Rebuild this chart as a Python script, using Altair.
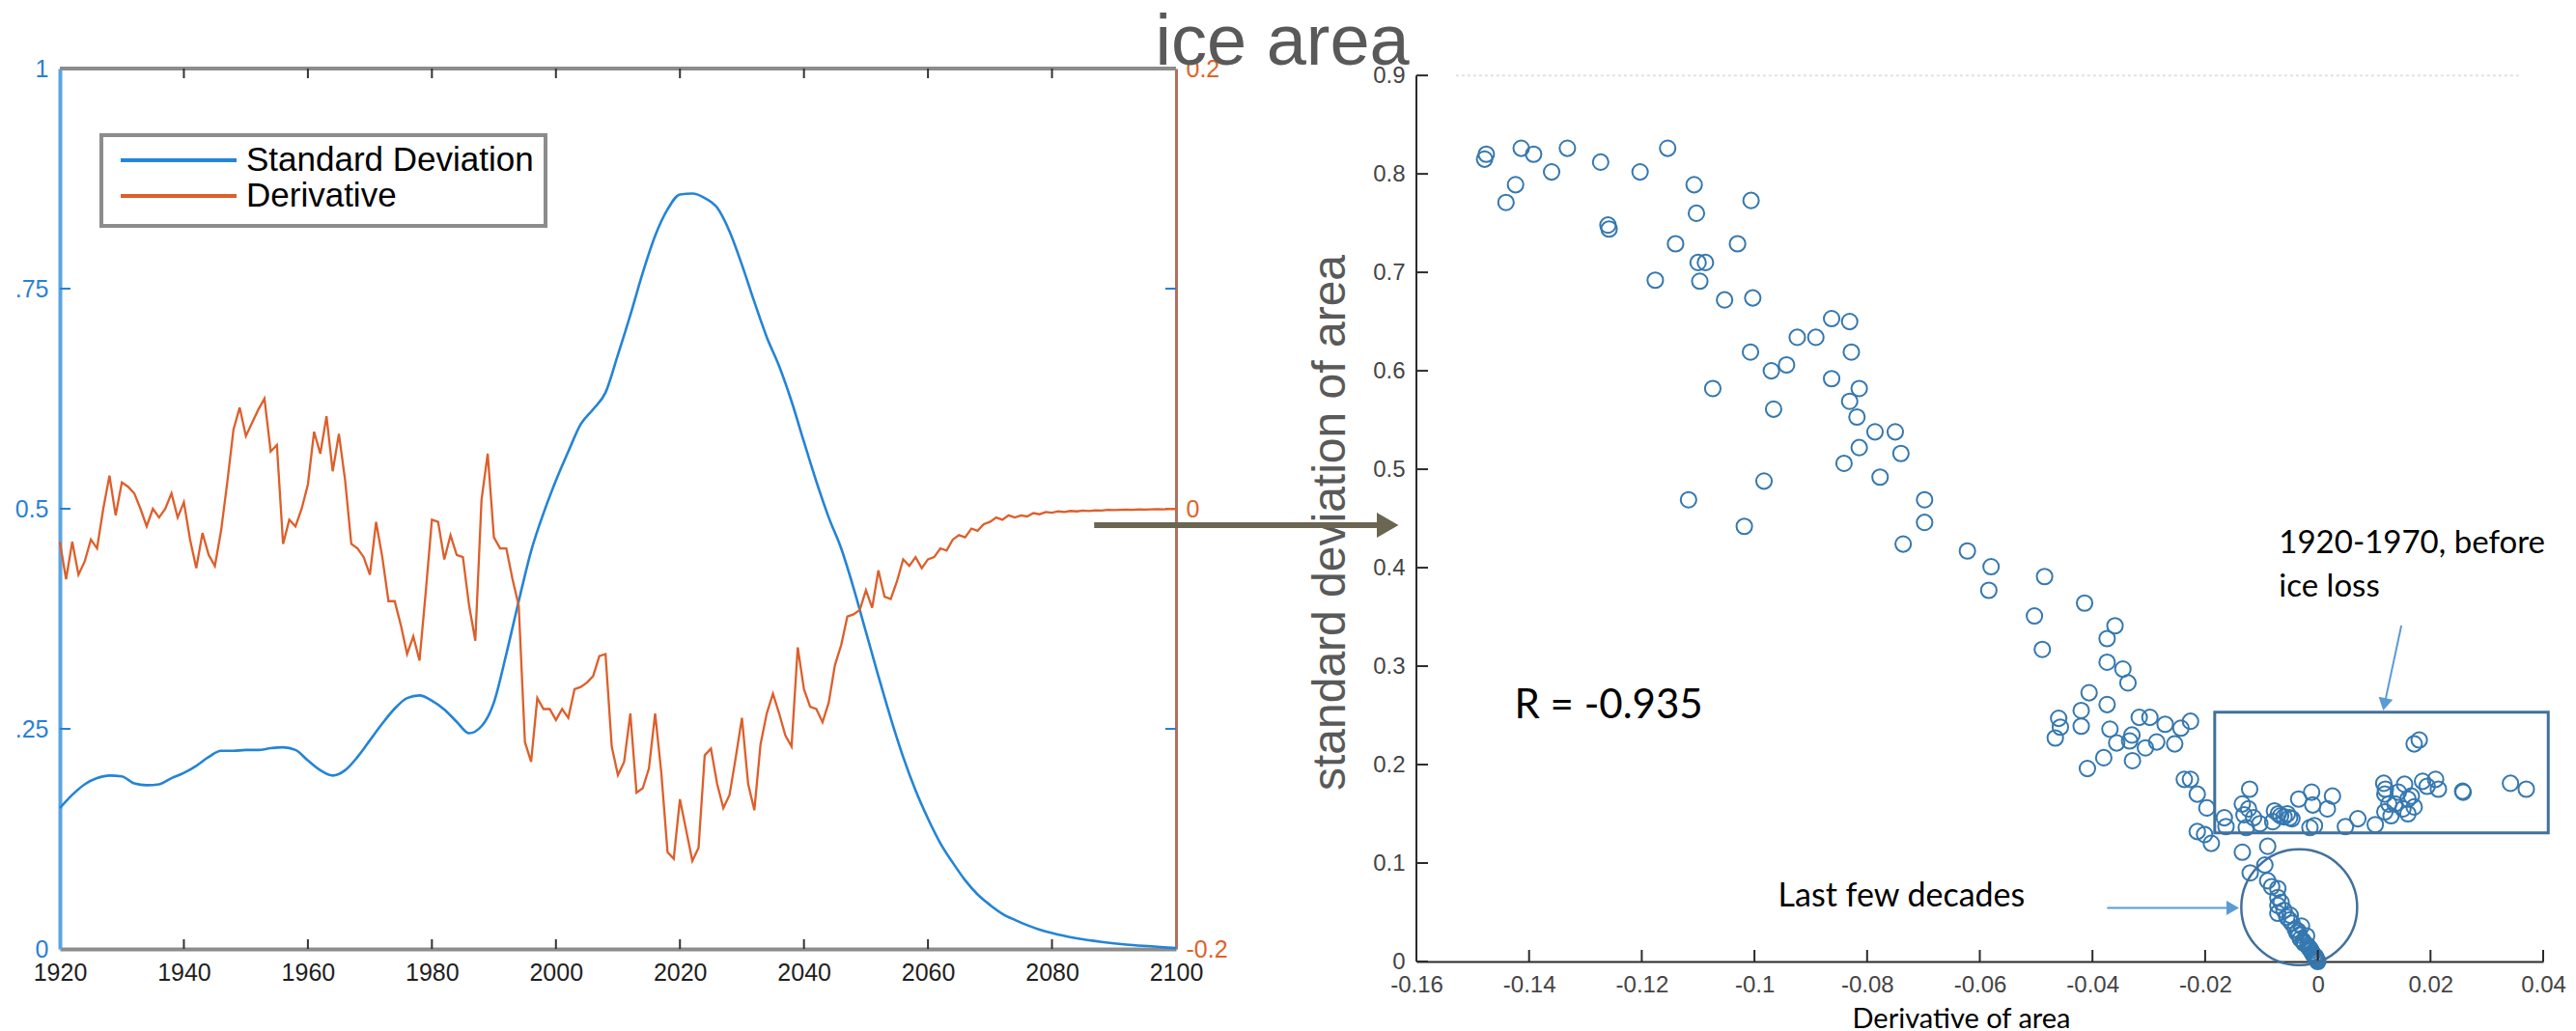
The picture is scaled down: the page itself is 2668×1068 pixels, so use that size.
import altair as alt
import pandas as pd

# ---------------- time series (left panel) ----------------
STD_YEARS = [1920, 1922, 1924, 1926, 1928, 1930, 1932, 1934, 1936, 1938,
             1940, 1942, 1944, 1946, 1948, 1950, 1952, 1954, 1956, 1958,
             1960, 1962, 1964, 1966, 1968, 1970, 1972, 1974, 1976, 1978,
             1980, 1982, 1984, 1986, 1988, 1990, 1992, 1994, 1996, 1998,
             2000, 2002, 2004, 2006, 2008, 2010, 2012, 2014, 2016, 2018,
             2020, 2022, 2024, 2026, 2028, 2030, 2032, 2034, 2036, 2038,
             2040, 2042, 2044, 2046, 2048, 2050, 2052, 2054, 2056, 2058,
             2060, 2062, 2064, 2066, 2068, 2070, 2072, 2074, 2076, 2078,
             2080, 2084, 2088, 2092, 2096, 2100]
STD_VALUES = [0.160, 0.175, 0.187, 0.194, 0.197, 0.196, 0.188, 0.186, 0.187, 0.194,
              0.200, 0.208, 0.218, 0.225, 0.225, 0.226, 0.226, 0.228, 0.229, 0.226,
              0.214, 0.203, 0.197, 0.203, 0.218, 0.237, 0.256, 0.273, 0.285, 0.288,
              0.282, 0.272, 0.258, 0.245, 0.253, 0.280, 0.335, 0.395, 0.452, 0.495,
              0.532, 0.565, 0.596, 0.613, 0.632, 0.675, 0.720, 0.768, 0.810, 0.840,
              0.857, 0.858, 0.853, 0.842, 0.815, 0.777, 0.735, 0.695, 0.662, 0.622,
              0.576, 0.531, 0.490, 0.455, 0.410, 0.360, 0.310, 0.262, 0.218, 0.180,
              0.148, 0.120, 0.098, 0.078, 0.062, 0.050, 0.040, 0.033, 0.027, 0.022,
              0.018, 0.012, 0.008, 0.005, 0.003, 0.001]

DERIV_YEARS = list(range(1920, 2101))
DERIV_VALUES = [
    -0.015, -0.032, -0.015, -0.030, -0.024, -0.014, -0.018, 0.000, 0.015, -0.003,    # 1920s
    0.012, 0.010, 0.007, 0.000, -0.008, 0.000, -0.004, 0.000, 0.007, -0.004,         # 1930s
    0.003, -0.014, -0.027, -0.011, -0.021, -0.026, -0.010, 0.012, 0.036, 0.046,      # 1940s
    0.033, 0.039, 0.045, 0.050, 0.026, 0.029, -0.016, -0.005, -0.008, 0.000,         # 1950s
    0.011, 0.035, 0.025, 0.042, 0.017, 0.034, 0.013, -0.016, -0.018, -0.022,         # 1960s
    -0.030, -0.006, -0.022, -0.042, -0.042, -0.053, -0.066, -0.058, -0.069, -0.038,  # 1970s
    -0.005, -0.006, -0.023, -0.012, -0.021, -0.022, -0.044, -0.060, 0.004, 0.025,    # 1980s
    -0.013, -0.018, -0.018, -0.032, -0.044, -0.106, -0.115, -0.086, -0.091, -0.091,  # 1990s
    -0.096, -0.091, -0.095, -0.082, -0.081, -0.079, -0.076, -0.067, -0.066, -0.108,  # 2000s
    -0.121, -0.115, -0.093, -0.129, -0.127, -0.118, -0.093, -0.120, -0.156, -0.159,  # 2010s
    -0.132, -0.146, -0.160, -0.154, -0.112, -0.109, -0.125, -0.136, -0.130, -0.113,  # 2020s
    -0.095, -0.125, -0.137, -0.107, -0.093, -0.084, -0.093, -0.103, -0.108, -0.063,  # 2030s
    -0.082, -0.090, -0.091, -0.097, -0.088, -0.071, -0.062, -0.049, -0.048, -0.046,  # 2040s
    -0.037, -0.045, -0.028, -0.040, -0.041, -0.033, -0.023, -0.026, -0.022, -0.027,  # 2050s
    -0.023, -0.022, -0.018, -0.019, -0.014, -0.012, -0.013, -0.009, -0.010, -0.007,  # 2060s
    -0.006, -0.004, -0.005, -0.003, -0.004, -0.003, -0.0035, -0.002, -0.0025, -0.0015,  # 2070s
    -0.0018, -0.0012, -0.0015, -0.001, -0.0012, -0.0008, -0.001, -0.0007, -0.0008, -0.0005,  # 2080s
    -0.0006, -0.0005, -0.0004, -0.0005, -0.0003, -0.0004, -0.0003, -0.0002, -0.0003, -0.0002,  # 2090s
    -0.0001,
]

SERIES = ["Standard Deviation", "Derivative"]
SERIES_COLORS = ["#2484d6", "#dd5f2b"]

YEAR_TICKS = list(range(1920, 2101, 20))
STD_TICKS = [0, 0.25, 0.5, 0.75, 1]
STD_TICK_TEXT = ["0", ".25", "0.5", ".75", "1"]
DERIV_TICKS = [-0.2, 0, 0.2]
DERIV_TICK_TEXT = ["-0.2", "0", "0.2"]

# ---------------- scatter (right panel) ----------------
SCATTER_DERIV = [
    -0.1476, -0.1479, -0.1414, -0.1392, -0.1332, -0.1360, -0.1424, -0.1441, -0.1273, -0.1203,
    -0.1154, -0.1260, -0.1258, -0.1107, -0.1103, -0.1006, -0.1140, -0.1030, -0.1100, -0.1087,
    -0.1176, -0.1097, -0.1053, -0.1003, -0.0863, -0.0924, -0.0891, -0.1007, -0.0970, -0.0943,
    -0.0863, -0.1074, -0.0966, -0.0983, -0.1117, -0.1018,
    -0.0831, -0.0828, -0.0814, -0.0831, -0.0818, -0.0786, -0.0750, -0.0814, -0.0740, -0.0841,
    -0.0777, -0.0698, -0.0698, -0.0736, -0.0622, -0.0580, -0.0584, -0.0485, -0.0414, -0.0503,
    -0.0360, -0.0374, -0.0489, -0.0374, -0.0346,
    -0.0337, -0.0406, -0.0374, -0.0420, -0.0460, -0.0457, -0.0466, -0.0420, -0.0369, -0.0357,
    -0.0330, -0.0317, -0.0298, -0.0271, -0.0226, -0.0243, -0.0286, -0.0306, -0.0254, -0.0329,
    -0.0380, -0.0409, -0.0334, -0.0237, -0.0226, -0.0214, -0.0197, -0.0214, -0.0201, -0.0189,
    -0.0166, -0.0163,
    -0.0121, -0.0134, -0.0123, -0.0131, -0.0114, -0.0127, -0.0103, -0.0134, -0.0089, -0.0077,
    -0.0066, -0.0054, -0.0046, -0.0080, -0.0034, -0.0011, -0.0009, 0.0026, 0.0017, -0.0006,
    -0.0014, 0.0049, 0.0071, 0.0102, -0.0094, -0.0120, -0.0060, -0.0050, -0.0070,
    0.0119, 0.0126, 0.0117, 0.0120, 0.0119, 0.0137, 0.0143, 0.0154, 0.0160, 0.0151,
    0.0171, 0.0166, 0.0186, 0.0194, 0.0209, 0.0214, 0.0171, 0.0180, 0.0257, 0.0258,
    0.0342, 0.0370, 0.0130, 0.0160,
    -0.0071, -0.0071, -0.0071, -0.0071, -0.0049, -0.0046, -0.0029, -0.0037, -0.0031, -0.0023,
    -0.0014, -0.0009, -0.0003, 0.0000, -0.0020, -0.0089, -0.0040, -0.0026, -0.0018, -0.0012,
    -0.0007, -0.0005, -0.0002, -0.0001, -0.0016, -0.0010, -0.0004, -0.0025, -0.0033, -0.0050,
    -0.0060, -0.0065, -0.0082, -0.0055, -0.0035,
]
SCATTER_STD = [
    0.820, 0.815, 0.826, 0.820, 0.826, 0.802, 0.789, 0.771, 0.812, 0.802,
    0.826, 0.748, 0.744, 0.789, 0.760, 0.773, 0.729, 0.729, 0.710, 0.710,
    0.692, 0.691, 0.672, 0.674, 0.653, 0.634, 0.634, 0.619, 0.600, 0.606,
    0.592, 0.582, 0.561, 0.488, 0.469, 0.442,
    0.650, 0.619, 0.582, 0.569, 0.553, 0.538, 0.538, 0.522, 0.516, 0.506,
    0.492, 0.469, 0.446, 0.424, 0.417, 0.401, 0.377, 0.391, 0.364, 0.351,
    0.341, 0.328, 0.317, 0.304, 0.297,
    0.283, 0.273, 0.261, 0.255, 0.247, 0.238, 0.227, 0.239, 0.236, 0.222,
    0.230, 0.248, 0.248, 0.241, 0.244, 0.237, 0.223, 0.217, 0.221, 0.204,
    0.207, 0.196, 0.224, 0.185, 0.185, 0.170, 0.156, 0.132, 0.129, 0.120,
    0.146, 0.137,
    0.175, 0.160, 0.155, 0.149, 0.146, 0.136, 0.140, 0.111, 0.117, 0.153,
    0.148, 0.150, 0.145, 0.142, 0.165, 0.172, 0.159, 0.168, 0.155, 0.138,
    0.136, 0.137, 0.145, 0.139, 0.098, 0.090, 0.147, 0.146, 0.150,
    0.152, 0.160, 0.181, 0.175, 0.170, 0.160, 0.172, 0.180, 0.165, 0.155,
    0.157, 0.168, 0.183, 0.178, 0.185, 0.175, 0.221, 0.225, 0.173, 0.172,
    0.181, 0.175, 0.148, 0.150,
    0.074, 0.065, 0.057, 0.049, 0.047, 0.039, 0.036, 0.029, 0.023, 0.018,
    0.013, 0.008, 0.003, 0.000, 0.026, 0.082, 0.033, 0.021, 0.016, 0.011,
    0.006, 0.004, 0.002, 0.001, 0.014, 0.009, 0.005, 0.019, 0.027, 0.042,
    0.052, 0.060, 0.076, 0.045, 0.031,
]

X_TICKS = [-0.16, -0.14, -0.12, -0.1, -0.08, -0.06, -0.04, -0.02, 0, 0.02, 0.04]
X_TICK_TEXT = [str(v) for v in X_TICKS]
Y_TICKS = [0, 0.1, 0.2, 0.3, 0.4, 0.5, 0.6, 0.7, 0.8, 0.9]
Y_TICK_TEXT = [str(v) for v in Y_TICKS]

TITLE_TEXT = "ice area"
R_TEXT = "R = -0.935"
DECADES_TEXT = "Last few decades"
PERIOD_TEXT = ["1920-1970, before", "ice loss"]
X_TITLE = "Derivative of area"
Y_TITLE = "standard deviation of area"

# annotation anchors, in scatter data units (derivative, std)
TITLE_AT = (-0.1838, 0.9108)
R_AT = (-0.1426, 0.260)
DECADES_AT = (-0.0958, 0.0656)
PERIOD_AT = (-0.0069, [0.4245, 0.380])
BOX_D = [-0.0183, 0.0409]
BOX_V = [0.1307, 0.2533]
CIRCLE_AT = (-0.0033, 0.0552)
LINK_ARROW = {"d": -0.2172, "d2": -0.1651, "v": 0.4431}
DECADES_ARROW = {"d": -0.0374, "d2": -0.0151, "v": 0.0544}
PERIOD_ARROW = {"d": 0.01483, "v": 0.3413, "d2": 0.01183, "v2": 0.2612}

# ---------------- layout ----------------
LEFT_W, LEFT_H = 1156, 912
RIGHT_W, RIGHT_H = 1167, 925
RIGHT_Y_MAX = 0.907
PANEL_GAP = 249

BLUE_AXIS = "#5aa5e0"
BLUE_TEXT = "#2a7fd4"
ORANGE_TEXT = "#e0622a"
FRAME_GRAY = "#8c8c8c"
SHAPE_BLUE = "#41719c"
ARROW_BLUE = "#5b9bd5"
POINT_BLUE = "#3578b0"
AXIS_DARK = "#2b2b2b"


def label_expr(values, texts):
    parts = [f"abs(datum.value - ({v})) < 1e-9 ? '{t}'" for v, t in zip(values, texts)]
    return " : ".join(parts) + " : ''"


# ===== left panel =====
years_per_px = 180 / LEFT_W
std_per_px = 1 / LEFT_H

std_df = pd.DataFrame({"year": STD_YEARS, "std": STD_VALUES, "series": SERIES[0]})
der_df = pd.DataFrame({"year": DERIV_YEARS, "deriv": DERIV_VALUES, "series": SERIES[1]})

color = alt.Color("series:N", scale=alt.Scale(domain=SERIES, range=SERIES_COLORS), legend=None)

x_left = alt.X(
    "year:Q",
    scale=alt.Scale(domain=[1920, 2100], nice=False, zero=False),
    axis=alt.Axis(values=YEAR_TICKS, format="d", title=None, ticks=False, grid=False,
                  domainColor=FRAME_GRAY, domainWidth=4, labelFontSize=25,
                  labelColor="#1e1e1e", labelPadding=12, labelFlush=False),
)

std_line = alt.Chart(std_df).mark_line(strokeWidth=2.6, interpolate="monotone").encode(
    x=x_left,
    y=alt.Y("std:Q", scale=alt.Scale(domain=[0, 1], nice=False, zero=False),
            axis=alt.Axis(values=STD_TICKS, labelExpr=label_expr(STD_TICKS, STD_TICK_TEXT),
                          title=None, ticks=False, grid=False, domainColor=BLUE_AXIS,
                          domainWidth=4, labelColor=BLUE_TEXT, labelFontSize=25,
                          labelPadding=12)),
    color=color,
)

top_border = alt.Chart(pd.DataFrame({"year": [1920], "year2": [2100], "std": [1.0]})).mark_rule(
    color=FRAME_GRAY, strokeWidth=4
).encode(x="year:Q", x2="year2:Q", y="std:Q")

inner_years = YEAR_TICKS[1:-1]
frame_ticks = pd.DataFrame({
    "year": inner_years * 2,
    "std": [0.0] * len(inner_years) + [1.0] * len(inner_years),
    "std2": [10 * std_per_px] * len(inner_years) + [1 - 10 * std_per_px] * len(inner_years),
})
year_ticks = alt.Chart(frame_ticks).mark_rule(color="#333333", strokeWidth=2).encode(
    x="year:Q", y="std:Q", y2="std2:Q")

mid_std = STD_TICKS[1:-1]
std_tick_df = pd.DataFrame({
    "year": [1920] * len(mid_std) + [2100 - 11 * years_per_px] * 2,
    "year2": [1920 + 11 * years_per_px] * len(mid_std) + [2100] * 2,
    "std": mid_std + [0.25, 0.75],
})
std_ticks = alt.Chart(std_tick_df).mark_rule(color=BLUE_TEXT, strokeWidth=2).encode(
    x="year:Q", x2="year2:Q", y="std:Q")

# hand-drawn legend box
legend_box = alt.Chart(pd.DataFrame({"k": [0]})).mark_rect(
    fill="white", stroke=FRAME_GRAY, strokeWidth=4
).encode(x=alt.value(43), x2=alt.value(503), y=alt.value(69), y2=alt.value(163))
legend_parts = [legend_box]
for i, (name, col) in enumerate(zip(SERIES, SERIES_COLORS)):
    row_y = 95 + 37 * i
    entry = pd.DataFrame({"label": [name]})
    legend_parts.append(alt.Chart(entry).mark_rule(color=col, strokeWidth=4).encode(
        x=alt.value(63), x2=alt.value(183), y=alt.value(row_y)))
    legend_parts.append(alt.Chart(entry).mark_text(
        align="left", baseline="middle", fontSize=35, font="Liberation Sans", color="black"
    ).encode(x=alt.value(193), y=alt.value(row_y), text="label:N"))

std_group = alt.layer(std_line, top_border, year_ticks, std_ticks, *legend_parts)

der_line = alt.Chart(der_df).mark_line(strokeWidth=2.3).encode(
    x=alt.X("year:Q"),
    y=alt.Y("deriv:Q", scale=alt.Scale(domain=[-0.2, 0.2], nice=False, zero=False),
            axis=alt.Axis(orient="right", values=DERIV_TICKS,
                          labelExpr=label_expr(DERIV_TICKS, DERIV_TICK_TEXT),
                          title=None, ticks=False, grid=False, domainColor="#b07060",
                          domainWidth=3, labelColor=ORANGE_TEXT, labelFontSize=25,
                          labelPadding=10)),
    color=color,
)
der_tick = alt.Chart(pd.DataFrame({"year": [2100 - 11 * years_per_px], "year2": [2100],
                                   "deriv": [0.0]})).mark_rule(
    color=ORANGE_TEXT, strokeWidth=2).encode(x="year:Q", x2="year2:Q", y="deriv:Q")

der_group = alt.layer(der_line, der_tick)

left = alt.layer(std_group, der_group).resolve_scale(y="independent").properties(
    width=LEFT_W, height=LEFT_H)

# ===== right panel =====
d_per_px = 0.2 / RIGHT_W
v_per_px = RIGHT_Y_MAX / RIGHT_H

scatter_df = pd.DataFrame({"d": SCATTER_DERIV, "v": SCATTER_STD})

x_right = alt.X(
    "d:Q",
    scale=alt.Scale(domain=[-0.16, 0.04], nice=False, zero=False),
    axis=alt.Axis(values=X_TICKS, labelExpr=label_expr(X_TICKS, X_TICK_TEXT), ticks=False,
                  grid=False, domainColor=AXIS_DARK, domainWidth=2, labelFontSize=24,
                  labelColor="#444444", labelPadding=12, labelFlush=False,
                  title=X_TITLE, titleFont="Lato", titleFontSize=29, titleFontWeight="normal",
                  titleColor="black", titleX=564, titleY=68, titleBaseline="alphabetic"),
)
y_right = alt.Y(
    "v:Q",
    scale=alt.Scale(domain=[0, RIGHT_Y_MAX], nice=False, zero=False),
    axis=alt.Axis(values=Y_TICKS, labelExpr=label_expr(Y_TICKS, Y_TICK_TEXT), ticks=False,
                  domain=False, grid=False, labelFontSize=24, labelColor="#444444",
                  labelPadding=12, title=Y_TITLE, titleFont="Liberation Sans",
                  titleFontSize=48, titleFontWeight="normal", titleColor="#595959",
                  titleX=-75, titleY=470, titleBaseline="alphabetic", titleAngle=270),
)

points = alt.Chart(scatter_df).mark_point(
    shape="circle", filled=False, size=260, strokeWidth=2, color=POINT_BLUE, opacity=1
).encode(x=x_right, y=y_right)

y_domain_line = alt.Chart(pd.DataFrame({"d": [-0.16], "v": [0.0], "v2": [0.9]})).mark_rule(
    color=AXIS_DARK, strokeWidth=2).encode(x="d:Q", y="v:Q", y2="v2:Q")

x_tick_df = pd.DataFrame({"d": X_TICKS, "v": [0.0] * len(X_TICKS),
                          "v2": [12 * v_per_px] * len(X_TICKS)})
x_ticks = alt.Chart(x_tick_df).mark_rule(color=AXIS_DARK, strokeWidth=2).encode(
    x="d:Q", y="v:Q", y2="v2:Q")

y_tick_df = pd.DataFrame({"d": [-0.16] * len(Y_TICKS),
                          "d2": [-0.16 + 12 * d_per_px] * len(Y_TICKS), "v": Y_TICKS})
y_ticks = alt.Chart(y_tick_df).mark_rule(color=AXIS_DARK, strokeWidth=2).encode(
    x="d:Q", x2="d2:Q", y="v:Q")

top_line = alt.Chart(pd.DataFrame({"d": [-0.153], "d2": [0.036], "v": [0.9]})).mark_rule(
    color="#e2e2e2", strokeWidth=2, strokeDash=[3, 3]).encode(x="d:Q", x2="d2:Q", y="v:Q")

box = alt.Chart(pd.DataFrame({"d": [BOX_D[0]], "d2": [BOX_D[1]], "v": [BOX_V[0]],
                              "v2": [BOX_V[1]]})).mark_rect(
    fillOpacity=0, stroke=SHAPE_BLUE, strokeWidth=3, clip=False
).encode(x="d:Q", x2="d2:Q", y="v:Q", y2="v2:Q")

ring = alt.Chart(pd.DataFrame({"d": [CIRCLE_AT[0]], "v": [CIRCLE_AT[1]]})).mark_point(
    shape="circle", filled=False, size=14400, strokeWidth=2.5, color=SHAPE_BLUE, opacity=1,
    clip=False
).encode(x="d:Q", y="v:Q")

link_shaft = alt.Chart(pd.DataFrame([LINK_ARROW])).mark_rule(
    color="#6b6652", strokeWidth=6, clip=False).encode(x="d:Q", x2="d2:Q", y="v:Q")
link_head = alt.Chart(pd.DataFrame({"d": [LINK_ARROW["d2"]], "v": [LINK_ARROW["v"]]})).mark_point(
    shape="triangle-right", filled=True, size=676, color="#6b6652", opacity=1, clip=False
).encode(x="d:Q", y="v:Q")

dec_shaft = alt.Chart(pd.DataFrame([DECADES_ARROW])).mark_rule(
    color=ARROW_BLUE, strokeWidth=2, clip=False).encode(x="d:Q", x2="d2:Q", y="v:Q")
dec_head = alt.Chart(pd.DataFrame({"d": [DECADES_ARROW["d2"]], "v": [DECADES_ARROW["v"]]})).mark_point(
    shape="triangle-right", filled=True, size=225, color=ARROW_BLUE, opacity=1, clip=False
).encode(x="d:Q", y="v:Q")

per_shaft = alt.Chart(pd.DataFrame([PERIOD_ARROW])).mark_rule(
    color=ARROW_BLUE, strokeWidth=2, clip=False).encode(x="d:Q", x2="d2:Q", y="v:Q", y2="v2:Q")
per_head = alt.Chart(pd.DataFrame({"d": [PERIOD_ARROW["d2"]], "v": [PERIOD_ARROW["v2"]]})).mark_point(
    shape="triangle-down", filled=True, size=225, angle=11.7, color=ARROW_BLUE, opacity=1,
    clip=False
).encode(x="d:Q", y="v:Q")

title_text = alt.Chart(pd.DataFrame({"d": [TITLE_AT[0]], "v": [TITLE_AT[1]],
                                     "t": [TITLE_TEXT]})).mark_text(
    align="center", baseline="alphabetic", font="Liberation Sans", fontSize=74,
    color="#595959", clip=False
).encode(x="d:Q", y="v:Q", text="t:N")

note_style = dict(align="left", baseline="middle", font="Lato", color="black", clip=False)
r_text = alt.Chart(pd.DataFrame({"d": [R_AT[0]], "v": [R_AT[1]], "t": [R_TEXT]})).mark_text(
    fontSize=42, **note_style).encode(x="d:Q", y="v:Q", text="t:N")
dec_text = alt.Chart(pd.DataFrame({"d": [DECADES_AT[0]], "v": [DECADES_AT[1]],
                                   "t": [DECADES_TEXT]})).mark_text(
    fontSize=34, **note_style).encode(x="d:Q", y="v:Q", text="t:N")
per_text = alt.Chart(pd.DataFrame({"d": [PERIOD_AT[0]] * 2, "v": PERIOD_AT[1],
                                   "t": PERIOD_TEXT})).mark_text(
    fontSize=33, **note_style).encode(x="d:Q", y="v:Q", text="t:N")

right = alt.layer(
    points, y_domain_line, x_ticks, y_ticks, top_line, box, ring,
    link_shaft, link_head, dec_shaft, dec_head, per_shaft, per_head,
    title_text, r_text, dec_text, per_text,
).properties(width=RIGHT_W, height=RIGHT_H)

chart = alt.hconcat(left, right, spacing=PANEL_GAP, bounds="flush").properties(
    padding={"left": 14, "top": 7, "right": 0, "bottom": 0}
).configure(
    font="Liberation Sans",
    view=alt.ViewConfig(stroke="transparent"),
).configure_axis(grid=False, labelFont="Liberation Sans")

chart.save("out.html", embed_options={"renderer": "svg", "actions": False})
